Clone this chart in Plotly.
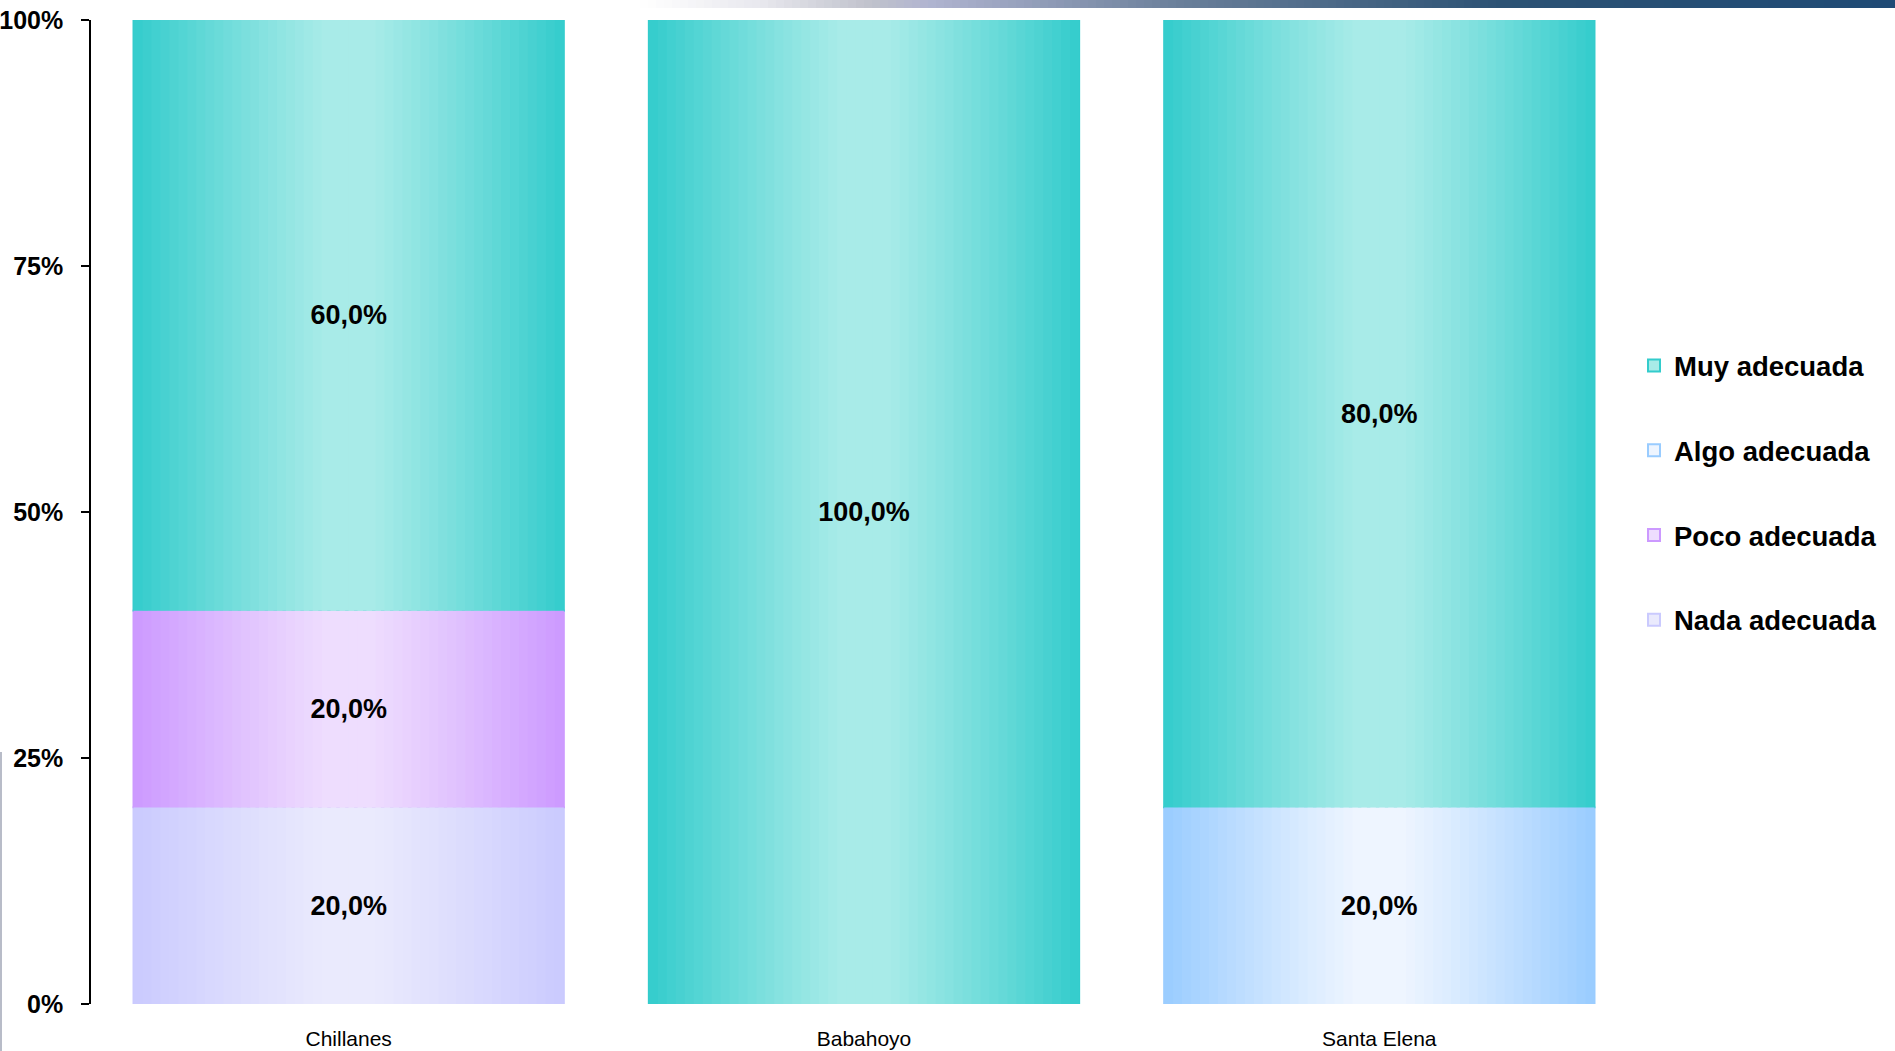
import plotly.graph_objects as go

# ---------------- data ----------------
categories = ["Chillanes", "Babahoyo", "Santa Elena"]
series_names = ["Nada adecuada", "Poco adecuada", "Algo adecuada", "Muy adecuada"]  # stacking order bottom -> top
nada = [20.0, 0.0, 0.0]
poco = [20.0, 0.0, 0.0]
algo = [0.0, 0.0, 20.0]
muy = [60.0, 100.0, 80.0]
y_ticks = [0, 25, 50, 75, 100]
y_tick_labels = ["0%", "25%", "50%", "75%", "100%"]

series_values = [nada, poco, algo, muy]
edge_colors = ["#CACAFE", "#CC99FF", "#99CCFF", "#33CCCC"]
center_colors = ["#EAEAFD", "#EEDDFE", "#EEF5FF", "#A8EBE8"]
legend_rank = [4, 3, 2, 1]

FONT = "Liberation Sans, Arial, Helvetica, sans-serif"
W, H = 1895, 1051
ML, MR, MT, MB = 91, 258, 20, 47
PW, PH = W - ML - MR, H - MT - MB

BAR_W = 0.835
N_STRIPS = 48


def hex2rgb(h):
    h = h.lstrip("#")
    return tuple(int(h[i:i + 2], 16) for i in (0, 2, 4))


def mix(c1, c2, t):
    a, b = hex2rgb(c1), hex2rgb(c2)
    return "rgb(%d,%d,%d)" % tuple(round(a[i] + (b[i] - a[i]) * t) for i in range(3))


def fmt(v):
    return ("%.1f" % v).replace(".", ",") + "%"


# cumulative bases
bases = []
running = [0.0] * len(categories)
for vals in series_values:
    bases.append(list(running))
    running = [r + v for r, v in zip(running, vals)]

fig = go.Figure()

# legend / base traces
for k, name in enumerate(series_names):
    vals = series_values[k]
    fig.add_trace(go.Bar(
        x=categories, y=[v if v > 0 else None for v in vals], base=bases[k],
        width=BAR_W, name=name, legendgroup=name, legendrank=legend_rank[k],
        marker=dict(color=center_colors[k], line=dict(color=edge_colors[k], width=2)),
        hoverinfo="skip",
    ))

# gradient strips (horizontal shading: dark edges, light centre)
sw = BAR_W / N_STRIPS
for k, name in enumerate(series_names):
    vals = series_values[k]
    for i in range(N_STRIPS):
        u = (i + 0.5) / N_STRIPS
        d = abs(2 * u - 1)
        t = max(0.0, (d - 0.1) / 0.9) ** 1.1
        col = mix(center_colors[k], edge_colors[k], t)
        w = sw if i == N_STRIPS - 1 else sw * 1.6
        fig.add_trace(go.Bar(
            x=categories, y=[v if v > 0 else None for v in vals], base=bases[k],
            width=w, offset=-BAR_W / 2 + i * sw,
            marker=dict(color=col, line=dict(width=0)),
            showlegend=False, legendgroup=name, hoverinfo="skip",
        ))

# value labels
for k, name in enumerate(series_names):
    vals = series_values[k]
    fig.add_trace(go.Bar(
        x=categories, y=[v if v > 0 else None for v in vals], base=bases[k],
        width=BAR_W, text=["<b>%s</b>" % fmt(v) if v > 0 else "" for v in vals],
        textposition="inside", insidetextanchor="middle", textangle=0,
        constraintext="none",
        textfont=dict(family=FONT, size=27, color="black"),
        marker=dict(color="rgba(0,0,0,0)", line=dict(width=0)),
        showlegend=False, legendgroup=name, hoverinfo="skip",
    ))

# decorative top band (slide header gradient) and left edge line
stops = [(640, "#FFFFFF"), (760, "#E8E8EE"), (870, "#C0C2CC"), (930, "#B0B4D0"),
         (1180, "#6A7F9A"), (1500, "#2C5274"), (1895, "#1F4A75")]


def px2x(px):
    return (px - ML) / PW


def py2y(py):
    return (H - MB - py) / PH


shapes = []
step = 8
for x0 in range(640, 1895, step):
    xc = x0 + step / 2
    for j in range(len(stops) - 1):
        if stops[j][0] <= xc <= stops[j + 1][0]:
            t = (xc - stops[j][0]) / (stops[j + 1][0] - stops[j][0])
            col = mix(stops[j][1], stops[j + 1][1], t)
            break
    shapes.append(dict(type="rect", xref="paper", yref="paper",
                       x0=px2x(x0), x1=px2x(min(x0 + step + 1, 1895)),
                       y0=py2y(8), y1=py2y(0), fillcolor=col, line=dict(width=0), layer="above"))
shapes.append(dict(type="rect", xref="paper", yref="paper", x0=px2x(0), x1=px2x(2),
                   y0=py2y(1051), y1=py2y(752), fillcolor="#B8BCC8", line=dict(width=0)))

fig.update_layout(
    autosize=True,
    margin=dict(l=ML, r=MR, t=MT, b=MB, pad=0, autoexpand=False),
    barmode="overlay",
    plot_bgcolor="white", paper_bgcolor="white",
    font=dict(family=FONT, color="black"),
    showlegend=True,
    legend=dict(
        x=px2x(1634), xanchor="left", y=py2y(341), yanchor="top",
        traceorder="grouped", tracegroupgap=46,
        font=dict(family=FONT, size=27.5, color="black", weight="bold"),
        bgcolor="rgba(0,0,0,0)", itemclick=False, itemdoubleclick=False,
    ),
    shapes=shapes,
    xaxis=dict(
        type="category", range=[-0.5, 2.5], showgrid=False, zeroline=False,
        showline=False, ticks="", ticklabelstandoff=20, automargin=False,
        tickfont=dict(family=FONT, size=21, color="black"),
    ),
    yaxis=dict(
        range=[0, 100], tickmode="array", tickvals=y_ticks, ticktext=y_tick_labels,
        showgrid=False, zeroline=False, showline=True, linecolor="black", linewidth=1.5,
        ticks="outside", ticklen=8, tickwidth=1.5, tickcolor="black",
        ticklabelstandoff=13, automargin=False,
        tickfont=dict(family=FONT, size=25, color="black", weight="bold"),
    ),
)

post = (
    "document.documentElement.style.margin='0';"
    "document.documentElement.style.padding='0';"
    "document.documentElement.style.overflow='hidden';"
    "document.body.style.margin='0';document.body.style.padding='0';"
    "document.body.style.overflow='hidden';"
    "var gd=document.getElementById('{plot_id}');"
    "gd.style.width='100vw';gd.style.height='100vh';"
    "Plotly.Plots.resize(gd);"
)

fig.write_html(
    "out.html",
    default_width="100vw", default_height="100vh",
    config={"displayModeBar": False, "responsive": True},
    post_script=post,
)
